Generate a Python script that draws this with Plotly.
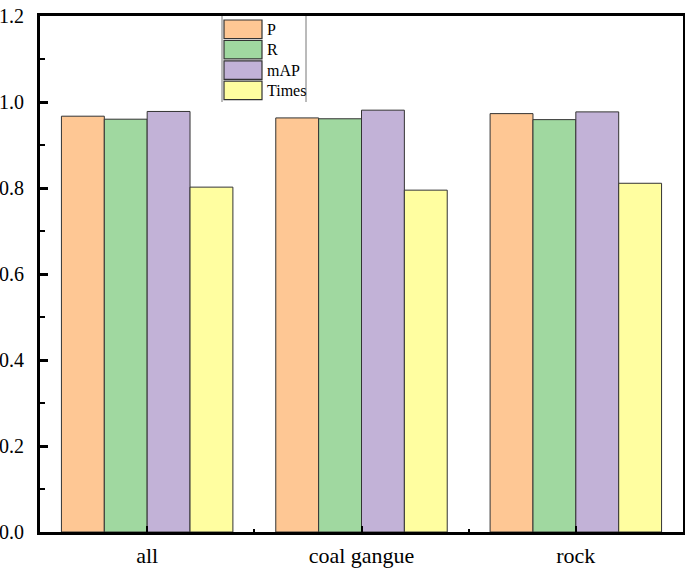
import plotly.graph_objects as go

categories = ["all", "coal gangue", "rock"]
P = [0.967, 0.963, 0.973]
R = [0.960, 0.961, 0.959]
mAP = [0.978, 0.981, 0.977]
Times = [0.802, 0.795, 0.811]

series_names = ["P", "R", "mAP", "Times"]
series_values = [P, R, mAP, Times]
colors = ["#FEC794", "#A0D8A0", "#C2B2D7", "#FFFEA0"]

W, H = 685, 568
# desired plot area in page pixels: x 40..683, y 16..532
PX0, PX1, PY0, PY1 = 40, 683, 16, 532
L, Rm, T, B = PX0, W - PX1, PY0, H - PY1
PW, PH = PX1 - PX0, PY1 - PY0
FONT = "Liberation Serif, Times New Roman, serif"

def px_x(x):
    return (x - PX0) / PW

def px_y(y):
    return (PY1 - y) / PH

xs = list(range(len(categories)))
fig = go.Figure()
for name, vals, col in zip(series_names, series_values, colors):
    fig.add_trace(go.Bar(x=xs, y=vals, name=name, marker=dict(color=col, line=dict(color="#333333", width=1)),
                         showlegend=False, hoverinfo="skip"))

# custom legend
shapes = []
annotations = []
for xx in (222, 306):
    shapes.append(dict(type="line", xref="paper", yref="paper", x0=px_x(xx), x1=px_x(xx), y0=px_y(16), y1=px_y(102),
                       line=dict(color="#777777", width=1)))
for i, (name, col) in enumerate(zip(series_names, colors)):
    t = 20 + 20.4 * i
    b = t + 18.5
    shapes.append(dict(type="rect", xref="paper", yref="paper", x0=px_x(224), x1=px_x(262), y0=px_y(b), y1=px_y(t),
                       fillcolor=col, line=dict(color="#333333", width=1.2)))
    annotations.append(dict(xref="paper", yref="paper", x=px_x(265), y=px_y((t + b) / 2), text=name, showarrow=False,
                            xanchor="left", yanchor="middle", font=dict(family=FONT, size=16, color="black")))

fig.update_layout(
    width=W, height=H,
    margin=dict(l=L, r=Rm, t=T, b=B, autoexpand=False),
    paper_bgcolor="white", plot_bgcolor="white",
    barmode="group", bargap=0.2, bargroupgap=0,
    font=dict(family=FONT, size=20, color="black"),
    shapes=shapes, annotations=annotations,
    xaxis=dict(range=[-0.5, 2.5], tickvals=xs, ticktext=categories, showline=True, mirror=True, linecolor="black",
               linewidth=3, ticks="inside", ticklen=6, tickwidth=2, tickcolor="black", showgrid=False, zeroline=False,
               tickfont=dict(family=FONT, size=22), ticklabelstandoff=2, automargin=False,
               minor=dict(tickvals=[0.5, 1.5], ticks="inside", ticklen=3, tickwidth=2, tickcolor="black")),
    yaxis=dict(range=[0, 1.2], tickvals=[0, 0.2, 0.4, 0.6, 0.8, 1.0, 1.2],
               ticktext=["0.0", "0.2", "0.4", "0.6", "0.8", "1.0", "1.2"],
               showline=True, mirror=True, linecolor="black", linewidth=3, ticks="inside", ticklen=8, tickwidth=3,
               tickcolor="black", showgrid=False, zeroline=False, tickfont=dict(family=FONT, size=20),
               ticklabelstandoff=9, automargin=False,
               minor=dict(tickvals=[0.1, 0.3, 0.5, 0.7, 0.9, 1.1], ticks="inside", ticklen=5, tickwidth=2,
                          tickcolor="black")),
)
fig.write_html("out.html", config={"displayModeBar": False},
               post_script="document.body.style.margin='0px';document.body.style.overflow='hidden';")
